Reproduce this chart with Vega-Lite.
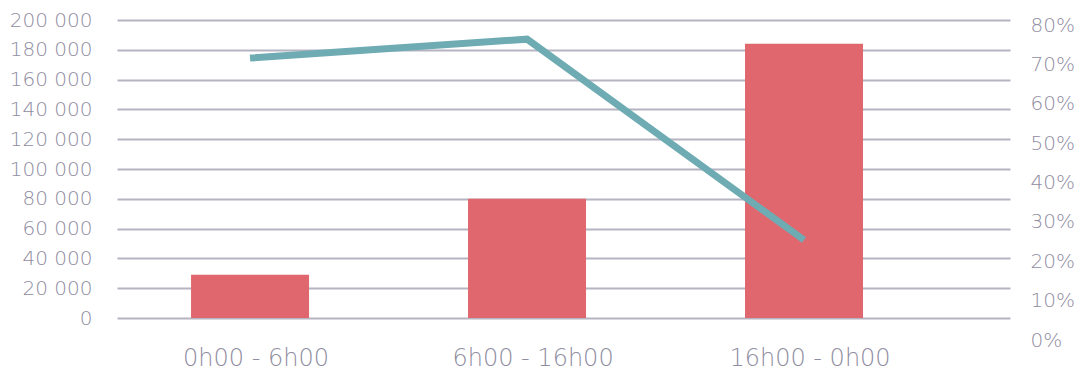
{
  "$schema": "https://vega.github.io/schema/vega-lite/v6.json",
  "autosize": "none",
  "width": 893,
  "height": 320,
  "padding": {"left": 117, "top": 20, "right": 81, "bottom": 33},
  "background": "white",
  "data": {
    "values": [
      {"period": "0h00 - 6h00", "count": 29000, "share": 0.716},
      {"period": "6h00 - 16h00", "count": 80000, "share": 0.764},
      {"period": "16h00 - 0h00", "count": 184000, "share": 0.254}
    ]
  },
  "encoding": {
    "x": {
      "field": "period",
      "type": "nominal",
      "sort": null,
      "scale": {"paddingInner": 0.574, "paddingOuter": 0.399, "align": 0.335},
      "axis": {
        "title": null,
        "domain": false,
        "ticks": false,
        "labelAngle": 0,
        "labelFontSize": 24,
        "labelFont": "DejaVu Sans",
        "labelFontWeight": 200,
        "labelColor": "#8f8da1",
        "labelPadding": 6,
        "labelOffset": 6,
        "grid": false
      }
    }
  },
  "layer": [
    {
      "mark": {"type": "bar", "color": "#e0676d"},
      "encoding": {
        "y": {
          "field": "count",
          "type": "quantitative",
          "scale": {"domain": [0, 200000], "range": [298, 0], "nice": false, "zero": true},
          "axis": {
            "title": null,
            "domain": false,
            "ticks": false,
            "values": [0, 20000, 40000, 60000, 80000, 100000, 120000, 140000, 160000, 180000, 200000],
            "labelExpr": "replace(format(datum.value, ','), regexp(',', 'g'), ' ')",
            "labelFontSize": 20,
            "labelFont": "DejaVu Sans",
            "labelFontWeight": 200,
            "labelColor": "#8f8da1",
            "labelPadding": 25,
            "grid": true,
            "gridColor": "#b6b4c2",
            "gridWidth": 2
          }
        }
      }
    },
    {
      "mark": {"type": "line", "color": "#6eabb3", "strokeWidth": 7, "strokeCap": "butt", "strokeJoin": "miter"},
      "encoding": {
        "y": {
          "field": "share",
          "type": "quantitative",
          "scale": {"domain": [0, 0.8], "range": [320, 5], "nice": false},
          "axis": {
            "title": null,
            "orient": "right",
            "domain": false,
            "ticks": false,
            "grid": false,
            "values": [0, 0.1, 0.2, 0.3, 0.4, 0.5, 0.6, 0.7, 0.8],
            "format": ".0%",
            "labelFontSize": 20,
            "labelFont": "DejaVu Sans",
            "labelFontWeight": 200,
            "labelColor": "#8f8da1",
            "labelPadding": 20
          }
        }
      }
    }
  ],
  "resolve": {"scale": {"y": "independent"}},
  "config": {"view": {"stroke": null}}
}
